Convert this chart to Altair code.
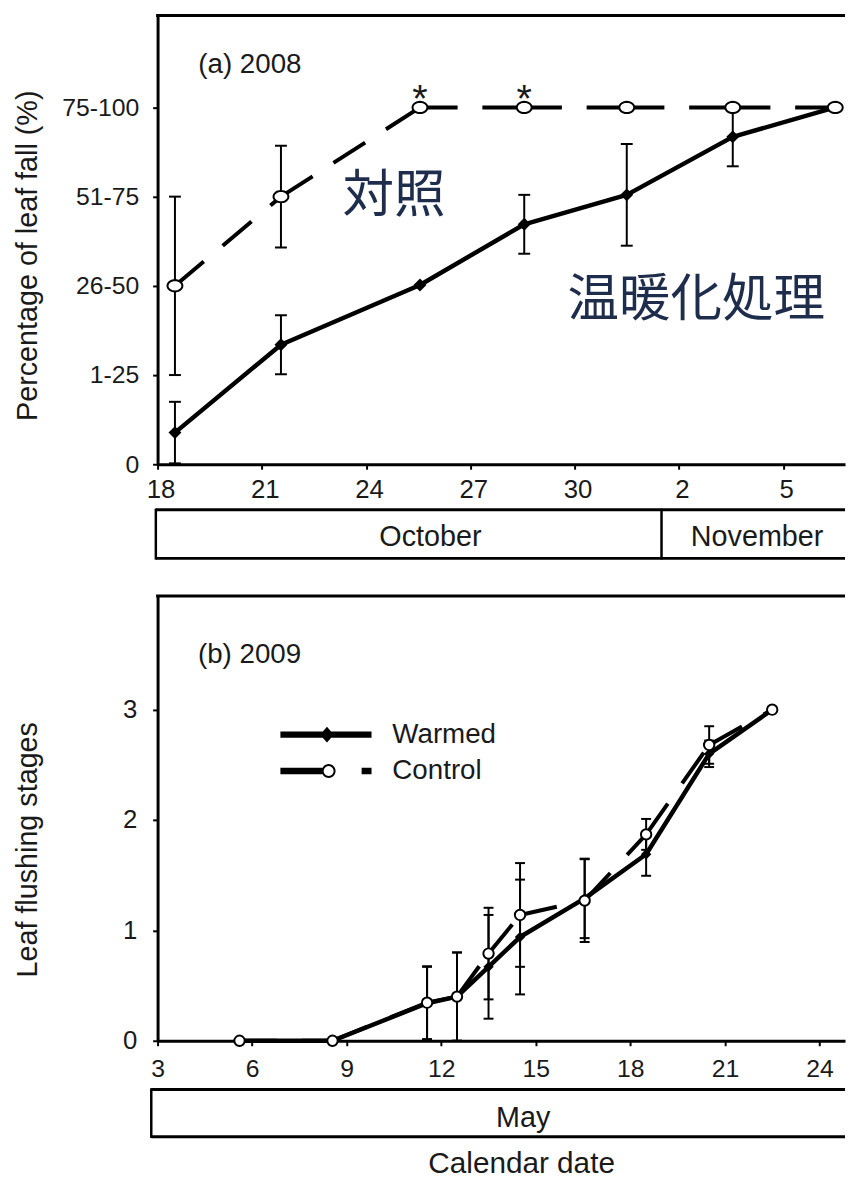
import math
import altair as alt
import pandas as pd

# ---------------- data ----------------
# (a) 2008 leaf fall, days counted from 1 October (Nov 2 = 33)
days_a = [18.5, 21.55, 25.55, 28.55, 31.5, 34.55, 37.5]
warmed_a = [0.355, 1.34, 2.01, 2.69, 3.02, 3.67, 4.0]
warmed_a_err = [0.345, 0.33, 0.0, 0.33, 0.57, 0.33, 0.0]
control_a = [2.0, 3.0, 4.0, 4.0, 4.0, 4.0, 4.0]
control_a_err = [1.0, 0.57, 0.0, 0.0, 0.0, 0.0, 0.0]
signif_days_a = [25.55, 28.55]
fall_classes = ["0", "1-25", "26-50", "51-75", "75-100"]
xticks_a = [18, 21, 24, 27, 30, 33, 36]
xtick_labels_a = ["18", "21", "24", "27", "30", "2", "5"]
months_a = ["October", "November"]
month_from_a = [17.95, 32.5]
month_to_a = [32.5, 38.0]
month_text_at_a = [25.85, 35.25]
jp_labels = ["対照", "温暖化処理"]
jp_x = [24.8, 33.5]
jp_y = [3.0, 1.84]

# (b) 2009 leaf flushing, days of May
days_b = [5.6, 8.55, 11.55, 12.5, 13.5, 14.5, 16.55, 18.5, 20.5, 22.5]
warmed_b = [0.0, 0.0, 0.34, 0.40, 0.67, 0.94, 1.29, 1.69, 2.60, 3.0]
warmed_b_err = [0.0, 0.0, 0.33, 0.40, 0.47, 0.52, 0.36, 0.195, 0.12, 0.0]
control_b = [0.0, 0.0, 0.345, 0.40, 0.79, 1.14, 1.27, 1.87, 2.68, 3.0]
control_b_err = [0.0, 0.0, 0.33, 0.40, 0.415, 0.47, 0.375, 0.14, 0.17, 0.0]
xticks_b = [3, 6, 9, 12, 15, 18, 21, 24]
yticks_b = [0, 1, 2, 3]
months_b = ["May"]
month_from_b = [2.8]
month_to_b = [32.0]
month_text_at_b = [14.6]
series = ["Warmed", "Control"]

panel_labels = ["(a) 2008", "(b) 2009"]
panel_label_x = [19.17, 4.28]
panel_label_y = [4.383, 3.42]

# ---------------- styling ----------------
W = 694
HA, HB = 453, 449
XA, YA = [18, 37.78], [0, 5.03]
XB, YB = [3, 24.81], [0, 4.03]
FONT = "Liberation Sans"
JP_FONT = "Noto Sans CJK JP"
INK = "#1a1a1a"
JP_INK = "#1f2d4d"


def poly(cx, cy, rx, ry, n=28, reverse=False):
    pts = []
    for k in range(n):
        a = 2 * math.pi * k / n
        if reverse:
            a = -a
        pts.append(f"{cx + rx * math.cos(a):.4f},{cy + ry * math.sin(a):.4f}")
    return "M" + " L".join(pts) + " Z"


def rect(x1, x2, t):
    return f"M{x1:.4f},{-t:.4f} L{x2:.4f},{-t:.4f} L{x2:.4f},{t:.4f} L{x1:.4f},{t:.4f} Z"


ELLIPSE = poly(0, 0, 1.25, 0.95)

U = 18.0
half = 46 / U
th = 3.2 / U
LEG_WARMED = (rect(-half, half, th) + " " +
              f"M{1/U:.4f},{-8/U:.4f} L{8/U:.4f},0 L{1/U:.4f},{8/U:.4f} L{-6/U:.4f},0 Z")
cc = 2.7 / U
ro, ri = 7 / U, 5 / U
LEG_CONTROL = (rect(-half, cc - ro + 0.03, th) + " " + poly(cc, 0, ro, ro) + " " +
               poly(cc, 0, ri, ri, reverse=True) + " " + rect(36 / U, half, th))


def label_expr(vals, labels):
    arr = ",".join(f"'{l}'" for l in labels)
    v = ",".join(str(x) for x in vals)
    return f"[{arr}][indexof([{v}], datum.value)]"


def err_frame(days, vals, errs):
    return pd.DataFrame([{"x": d, "lo": v - e, "hi": v + e}
                         for d, v, e in zip(days, vals, errs) if e > 0])


def cap_frame(days, vals, errs):
    rows = []
    for d, v, e in zip(days, vals, errs):
        if e > 0:
            rows += [{"x": d, "y": v - e}, {"x": d, "y": v + e}]
    return pd.DataFrame(rows)


def seg_frame(days, vals):
    rows = []
    for i in range(len(days) - 1):
        rows += [{"seg": i, "x": days[i], "y": vals[i]},
                 {"seg": i, "x": days[i + 1], "y": vals[i + 1]}]
    return pd.DataFrame(rows)


def panel(days, warm, warm_err, ctrl, ctrl_err, xdom, ydom, xaxis, yaxis,
          ctrl_shape, ctrl_size, warm_size, cap, lw):
    xs = alt.Scale(domain=xdom, nice=False, zero=False)
    ys = alt.Scale(domain=ydom, nice=False, zero=False)
    X = lambda f: alt.X(f, type="quantitative", scale=xs, axis=xaxis)
    Y = lambda f: alt.Y(f, type="quantitative", scale=ys, axis=yaxis)
    errs = pd.concat([err_frame(days, warm, warm_err), err_frame(days, ctrl, ctrl_err)],
                     ignore_index=True)
    caps = pd.concat([cap_frame(days, warm, warm_err), cap_frame(days, ctrl, ctrl_err)],
                     ignore_index=True)
    warm_df = pd.DataFrame({"x": days, "y": warm})
    ctrl_df = pd.DataFrame({"x": days, "y": ctrl})
    bars = alt.Chart(errs).mark_rule(color="black", strokeWidth=2).encode(
        x=X("x"), y=Y("lo"), y2="hi")
    capm = alt.Chart(caps).mark_tick(orient="horizontal", size=cap, thickness=2,
                                     color="black", opacity=1).encode(x=X("x"), y=Y("y"))
    ctrl_line = alt.Chart(seg_frame(days, ctrl)).mark_line(
        color="black", strokeWidth=lw, strokeDash=[38, 25]).encode(
        x=X("x"), y=Y("y"), detail="seg:N")
    warm_line = alt.Chart(warm_df).mark_line(
        color="black", strokeWidth=lw + 0.5, strokeJoin="round").encode(x=X("x"), y=Y("y"))
    warm_pts = alt.Chart(warm_df).mark_point(
        shape="diamond", filled=True, color="black", size=warm_size, opacity=1).encode(
        x=X("x"), y=Y("y"))
    ctrl_pts = alt.Chart(ctrl_df).mark_point(
        shape=ctrl_shape, filled=True, fill="white", stroke="black", strokeWidth=2,
        size=ctrl_size, opacity=1).encode(x=X("x"), y=Y("y"))
    frame = alt.Chart(pd.DataFrame({"k": [0]})).mark_rule(color="black", strokeWidth=3).encode(
        x=alt.value(-1.5), x2=alt.value(W), y=alt.value(0))
    return [bars, capm, ctrl_line, warm_line, warm_pts, ctrl_pts, frame], X, Y


common_axis = dict(tickSize=5, tickWidth=2, domainWidth=3, grid=False,
                   titleFontWeight="normal", labelFlush=False)

# ---------- panel (a) ----------
xaxis_a = alt.Axis(values=xticks_a, labelExpr=label_expr(xticks_a, xtick_labels_a),
                   title=None, labelFontSize=26, labelPadding=8, labelOffset=3, **common_axis)
yaxis_a = alt.Axis(values=[0, 1, 2, 3, 4], labelExpr=label_expr([0, 1, 2, 3, 4], fall_classes),
                   title="Percentage of leaf fall (%)", titleX=-116, titleY=242, titleAngle=270,
                   titleAlign="center", titleBaseline="bottom", titleFontSize=29,
                   labelFontSize=25, labelPadding=14, **common_axis)
layers_a, Xa, Ya = panel(days_a, warmed_a, warmed_a_err, control_a, control_a_err, XA, YA,
                         xaxis_a, yaxis_a, ELLIPSE, 144, 170, 12, 4)
sig_df = pd.DataFrame({"x": signif_days_a,
                       "y": [control_a[days_a.index(d)] for d in signif_days_a]})
stars = alt.Chart(sig_df).mark_text(text="*", fontSize=40, dy=-7, baseline="middle",
                                    color=INK).encode(x=Xa("x"), y=Ya("y"))
jp = alt.Chart(pd.DataFrame({"t": jp_labels, "x": jp_x, "y": jp_y})).mark_text(
    font=JP_FONT, fontSize=52, color=JP_INK, align="center", baseline="middle").encode(
    x=Xa("x"), y=Ya("y"), text="t:N")
lab_a = alt.Chart(pd.DataFrame({"t": [panel_labels[0]], "x": [panel_label_x[0]],
                                "y": [panel_label_y[0]]})).mark_text(
    fontSize=28, color=INK, align="left", baseline="alphabetic").encode(
    x=Xa("x"), y=Ya("y"), text="t:N")
panel_a = alt.layer(*layers_a, stars, jp, lab_a).properties(width=W, height=HA)

# ---------- panel (b) ----------
xaxis_b = alt.Axis(values=xticks_b, title=None, labelFontSize=25, labelPadding=11,
                   **common_axis)
yaxis_b = alt.Axis(values=yticks_b, format="d", title="Leaf flushing stages", titleX=-116,
                   titleY=255.7, titleAngle=270, titleAlign="center", titleBaseline="bottom",
                   titleFontSize=29, labelFontSize=26, labelPadding=16, **common_axis)
layers_b, Xb, Yb = panel(days_b, warmed_b, warmed_b_err, control_b, control_b_err, XB, YB,
                         xaxis_b, yaxis_b, "circle", 110, 110, 10, 4)
lab_b = alt.Chart(pd.DataFrame({"t": [panel_labels[1]], "x": [panel_label_x[1]],
                                "y": [panel_label_y[1]]})).mark_text(
    fontSize=28, color=INK, align="left", baseline="alphabetic").encode(
    x=Xb("x"), y=Yb("y"), text="t:N")
legend_layer = alt.Chart(pd.DataFrame({"s": series})).transform_filter("false").mark_point(
    filled=True, color="black", size=1296, strokeWidth=0, opacity=1).encode(
    shape=alt.Shape("s:N", scale=alt.Scale(domain=series, range=[LEG_WARMED, LEG_CONTROL]),
                    legend=alt.Legend(orient="none", legendX=152, legendY=122, title=None,
                                      symbolSize=1296, symbolStrokeWidth=0,
                                      symbolFillColor="black", symbolOpacity=1,
                                      labelFontSize=28, labelFont=FONT, labelColor=INK,
                                      labelOffset=49, rowPadding=4.7, padding=0)))
panel_b = alt.layer(*layers_b, lab_b, legend_layer).properties(width=W, height=HB)


# ---------- month strips ----------
def strip(months, mfrom, mto, mtext, xdom, height, top, box_h, text_y, axis):
    df = pd.DataFrame({"month": months, "start": mfrom, "end": mto, "at": mtext})
    xs = alt.Scale(domain=xdom, nice=False, zero=False)
    base = alt.Chart(df).transform_calculate(endc=f"min(datum.end, {xdom[1]})")
    X = lambda f: alt.X(f, type="quantitative", scale=xs, axis=axis)
    top_r = base.mark_rule(color="black", strokeWidth=3).encode(
        x=X("start"), x2="endc:Q", y=alt.value(top))
    bot_r = base.mark_rule(color="black", strokeWidth=3).encode(
        x=X("start"), x2="endc:Q", y=alt.value(top + box_h))
    side = base.mark_rule(color="black", strokeWidth=2.5, strokeCap="square").encode(
        x=X("start"), y=alt.value(top), y2=alt.value(top + box_h))
    txt = base.mark_text(fontSize=29, color=INK, baseline="middle", align="center").encode(
        x=X("at"), y=alt.value(text_y), text="month:N")
    return alt.layer(top_r, bot_r, side, txt).properties(width=W, height=height)


strip_a = strip(months_a, month_from_a, month_to_a, month_text_at_a, XA, 80, 0, 49, 27.9, None)
date_axis = alt.Axis(title="Calendar date", labels=False, ticks=False, domain=False, grid=False,
                     titleX=367, titleY=36.5, titleAlign="center", titleBaseline="alphabetic",
                     titleFontSize=30, titleFontWeight="normal")
strip_b = strip(months_b, month_from_b, month_to_b, month_text_at_b, XB, 51, 3.2, 47.6, 32.2,
                date_axis)

chart = alt.vconcat(panel_a, strip_a, panel_b, strip_b, spacing=5).resolve_legend(
    shape="independent"
).properties(
    padding={"left": 6, "top": 0, "right": 0, "bottom": 0}
).configure(font=FONT).configure_view(stroke=None).configure_axis(
    labelFont=FONT, titleFont=FONT, labelColor=INK, titleColor=INK,
    domainColor="black", tickColor="black")

chart.save("out.html", embed_options={"renderer": "svg", "actions": False})
